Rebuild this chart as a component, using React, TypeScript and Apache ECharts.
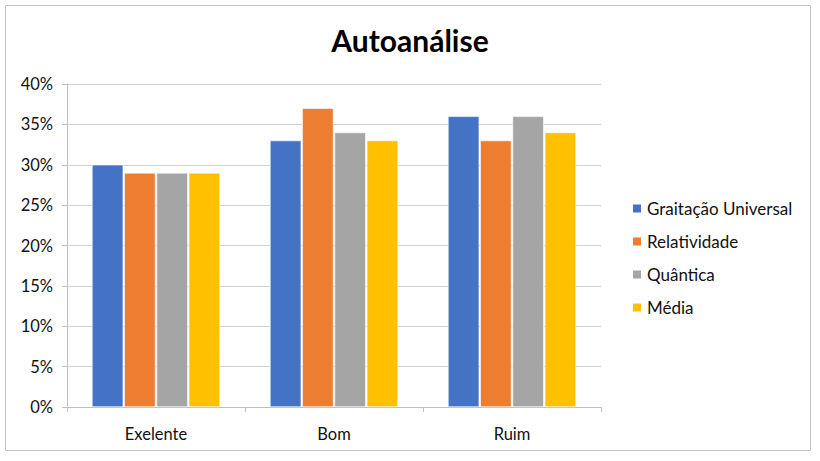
import React, { useEffect, useRef } from 'react'
import * as echarts from 'echarts'

const categories = ['Exelente', 'Bom', 'Ruim']
const gravitacao = [30, 33, 36]
const relatividade = [29, 37, 33]
const quantica = [29, 34, 36]
const media = [29, 33, 34]

const seriesNames = ['Graitação Universal', 'Relatividade', 'Quântica', 'Média']
const seriesColors = ['#4472C4', '#ED7D31', '#A5A5A5', '#FFC000']
const seriesValues = [gravitacao, relatividade, quantica, media]

const FONT = 'Lato, "Open Sans", sans-serif'

const App: React.FC = () => {
    const chartRef = useRef<HTMLDivElement | null>(null)

    useEffect(() => {
        if (!chartRef.current) return
        const chart = echarts.init(chartRef.current, undefined, { renderer: 'svg' })

        chart.setOption({
            animation: false,
            backgroundColor: '#fff',
            textStyle: { fontFamily: FONT },
            title: {
                text: 'Autoanálise',
                left: 'center',
                top: 20,
                textStyle: { fontFamily: FONT, fontSize: 30, fontWeight: 'bold', color: '#000' },
            },
            graphic: [
                {
                    type: 'rect',
                    shape: { x: 5.5, y: 5.5, width: 805, height: 445 },
                    style: { fill: 'none', stroke: '#c6c6c6', lineWidth: 1 },
                    silent: true,
                },
            ],
            legend: {
                orient: 'vertical',
                left: 626,
                top: 195,
                itemWidth: 10,
                itemHeight: 10,
                itemGap: 16,
                icon: 'rect',
                textStyle: { fontFamily: FONT, fontSize: 17, color: '#111' },
                data: seriesNames,
            },
            grid: { left: 67, right: 219, top: 84, bottom: 54 },
            xAxis: {
                type: 'category',
                data: categories,
                axisLine: { lineStyle: { color: '#bfbfbf' } },
                axisTick: { show: true, length: 5, lineStyle: { color: '#bfbfbf' } },
                axisLabel: { fontFamily: FONT, fontSize: 16.5, color: '#111', margin: 18 },
            },
            yAxis: {
                type: 'value',
                min: 0,
                max: 40,
                interval: 5,
                axisLine: { show: true, lineStyle: { color: '#bfbfbf' } },
                axisTick: { show: true, length: 5, lineStyle: { color: '#bfbfbf' } },
                splitLine: { lineStyle: { color: '#d0d0d0' } },
                axisLabel: { formatter: '{value}%', fontFamily: FONT, fontSize: 16.5, color: '#111', margin: 14 },
            },
            series: seriesNames.map((name, i) => ({
                name,
                type: 'bar',
                data: seriesValues[i],
                barGap: '3%',
                barCategoryGap: '28%',
                itemStyle: { color: seriesColors[i], borderColor: '#ffffff', borderWidth: 0.6 },
            })),
        })

        return () => {
            chart.dispose()
        }
    }, [])

    return (
        <div
            ref={chartRef}
            style={{ position: 'absolute', left: 0, top: 0, width: 820, height: 461 }}
        />
    )
}

export default App
